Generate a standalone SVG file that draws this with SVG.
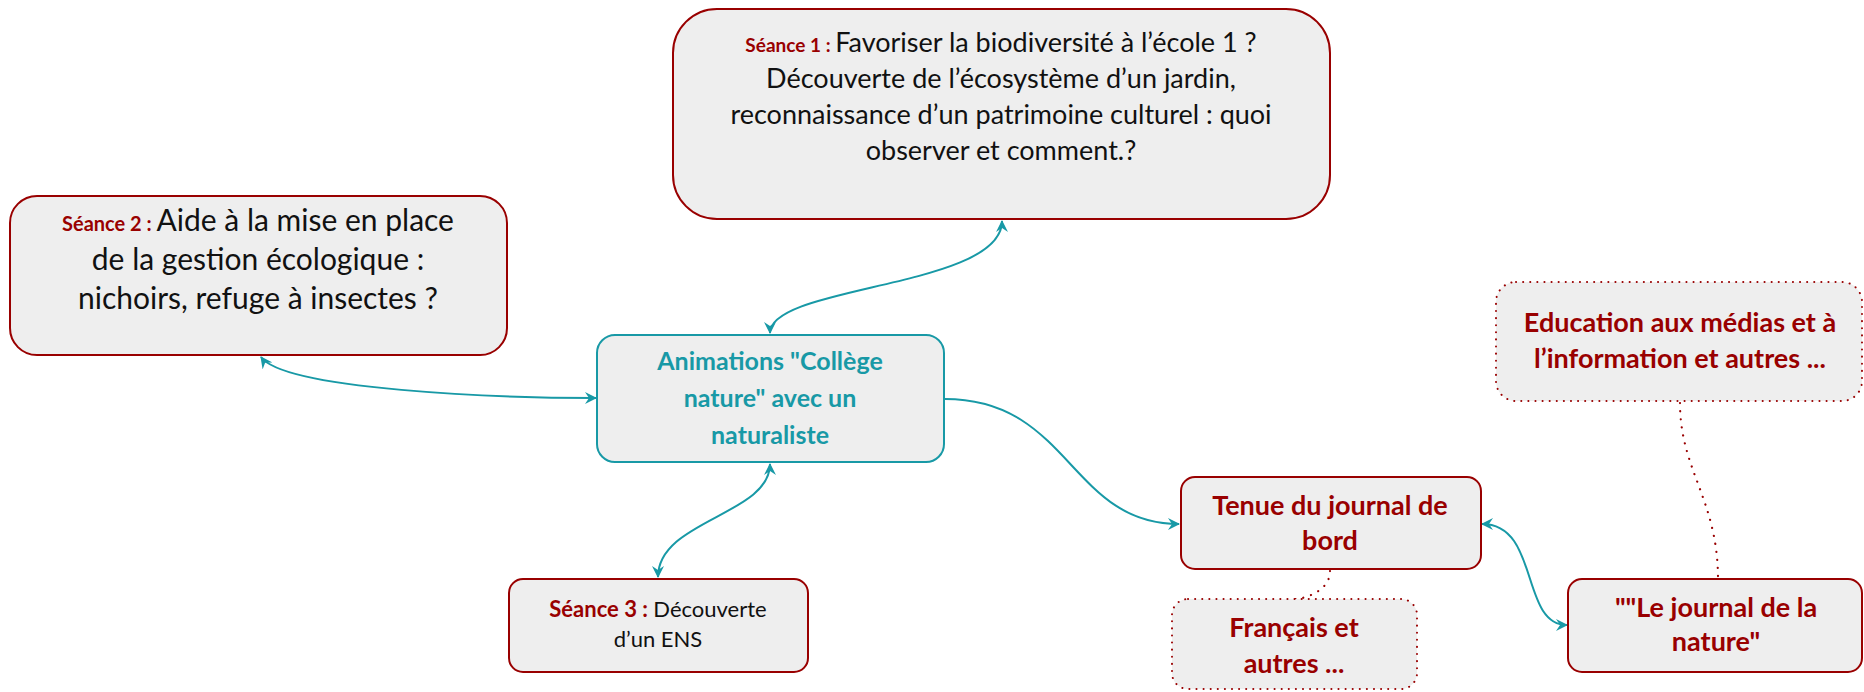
<svg xmlns="http://www.w3.org/2000/svg" width="1864" height="692" viewBox="0 0 1864 692">
<defs>
<style>
.box{fill:#eeeeee;stroke:#990000;stroke-width:2}
.dot{fill:#eeeeee;stroke:#990000;stroke-width:2;stroke-dasharray:0.1 7;stroke-linecap:round}
.ctr{fill:#eeeeee;stroke:#1899a6;stroke-width:2}
.t{font-family:Lato,"Liberation Sans",sans-serif;text-anchor:middle;fill:#111111}
.lbl{font-weight:bold;fill:#990000}
.red{font-family:Lato,"Liberation Sans",sans-serif;text-anchor:middle;font-weight:bold;fill:#990000;font-size:27px}
.teal{font-family:Lato,"Liberation Sans",sans-serif;text-anchor:middle;font-weight:bold;fill:#1899a6;font-size:25px}
.link{fill:none;stroke:#1899a6;stroke-width:2}
.dlink{fill:none;stroke:#990000;stroke-width:2.2;stroke-dasharray:0.1 8;stroke-linecap:round}
</style>
<marker id="ah" viewBox="0 0 12 12" refX="11" refY="6" markerWidth="12" markerHeight="12" markerUnits="userSpaceOnUse" orient="auto-start-reverse">
<path d="M0,0 L12,6 L0,12 L4,6 Z" fill="#1899a6"/>
</marker>
</defs>
<g id="connectors">
<path class="link" d="M770,333 C770,285 1002,288 1002,221" marker-start="url(#ah)" marker-end="url(#ah)"/>
<path class="link" d="M261,357 C285,390 500,398 596,398" marker-start="url(#ah)" marker-end="url(#ah)"/>
<path class="link" d="M770,464 C770,515 658,520 658,577" marker-start="url(#ah)" marker-end="url(#ah)"/>
<path class="link" d="M945,399 C1070,399 1070,524 1179,524" marker-end="url(#ah)"/>
<path class="link" d="M1482,524 C1540,524 1520,625 1567,625" marker-start="url(#ah)" marker-end="url(#ah)"/>
<path class="dlink" d="M1330,571 C1330,595 1295,600 1295,599"/>
<path class="dlink" d="M1680,403 C1680,470 1718,500 1718,579"/>
</g>
<g id="n-seance1">
<rect class="box" x="673" y="9" width="657" height="210" rx="44"/>
<text class="t" font-size="27" x="1001" y="52"><tspan class="lbl" font-size="19">Séance 1 : </tspan>Favoriser la biodiversité à l’école 1 ?</text>
<text class="t" font-size="27" x="1001" y="88">Découverte de l’écosystème d’un jardin,</text>
<text class="t" font-size="27" x="1001" y="124">reconnaissance d’un patrimoine culturel : quoi</text>
<text class="t" font-size="27" x="1001" y="160">observer et comment.?</text>
</g>
<g id="n-seance2">
<rect class="box" x="10" y="196" width="497" height="159" rx="27"/>
<text class="t" font-size="30" x="258" y="231"><tspan class="lbl" font-size="20">Séance 2 : </tspan>Aide à la mise en place</text>
<text class="t" font-size="30" x="258" y="270">de la gestion écologique :</text>
<text class="t" font-size="30" x="258" y="309">nichoirs, refuge à insectes ?</text>
</g>
<g id="n-center">
<rect class="ctr" x="597" y="335" width="347" height="127" rx="18"/>
<text class="teal" x="770" y="370">Animations "Collège</text>
<text class="teal" x="770" y="407">nature" avec un</text>
<text class="teal" x="770" y="444">naturaliste</text>
</g>
<g id="n-seance3">
<rect class="box" x="509" y="579" width="299" height="93" rx="14"/>
<text class="t" font-size="22" x="658" y="617"><tspan class="lbl">Séance 3 : </tspan>Découverte</text>
<text class="t" font-size="22" x="658" y="647">d’un ENS</text>
</g>
<g id="n-tenue">
<rect class="box" x="1181" y="477" width="300" height="92" rx="14"/>
<text class="red" x="1330" y="515">Tenue du journal de</text>
<text class="red" x="1330" y="550">bord</text>
</g>
<g id="n-francais">
<rect class="dot" x="1172" y="599" width="245" height="90" rx="16"/>
<text class="red" x="1294" y="637">Français et</text>
<text class="red" x="1294" y="673">autres ...</text>
</g>
<g id="n-education">
<rect class="dot" x="1496" y="282" width="366" height="119" rx="20"/>
<text class="red" x="1680" y="332">Education aux médias et à</text>
<text class="red" x="1680" y="368">l’information et autres ...</text>
</g>
<g id="n-journal">
<rect class="box" x="1568" y="579" width="294" height="93" rx="14"/>
<text class="red" x="1716" y="617">""Le journal de la</text>
<text class="red" x="1716" y="651">nature"</text>
</g>
</svg>
